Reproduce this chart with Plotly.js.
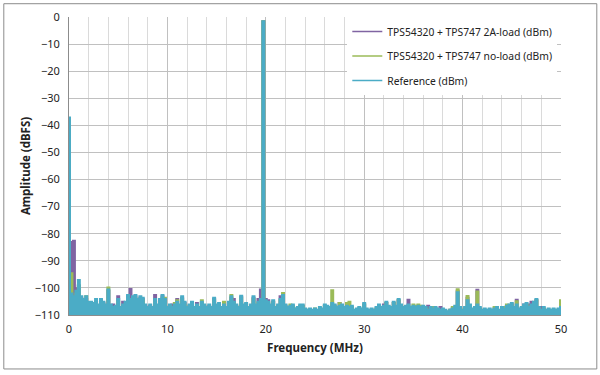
<!DOCTYPE html>
<html>
<head>
<meta charset="utf-8">
<script src="https://cdn.plot.ly/plotly-3.0.1.min.js"></script>
<style>
html,body{margin:0;padding:0;background:#fff;}
#chart{width:600px;height:375px;}
</style>
</head>
<body>
<div id="chart"></div>
<script>
// Frequency grid (MHz), 0.25 MHz spacing, 0..50
var freqMHz = [];
for (var i = 0; i <= 200; i++) { freqMHz.push(i * 0.25); }

var seriesNames = [
  "TPS54320 + TPS747 2A-load (dBm)",
  "TPS54320 + TPS747 no-load (dBm)",
  "Reference (dBm)"
];

// TPS54320 + TPS747 2A-load (dBm)
var load2A = [
  -38,-83,-82.5,-100,-99,-103.5,-104.5,-104,-105.5,-105.5,-106,-105,-106.5,-104.5,-105.5,-106.5,-101,-106.5,-106,-107,
  -103,-107.5,-105,-105.5,-103,-100.3,-103.5,-103,-104.5,-103.5,-104,-106.5,-107.5,-106.5,-107.5,-102.5,-106.5,-104.5,-103,-104.5,
  -107.5,-106.5,-106,-106.5,-104,-106.5,-103.5,-105.5,-107.5,-106.5,-105.5,-107.5,-105.5,-107.5,-105.5,-106.5,-107.5,-106.5,-107.5,-104,
  -106.5,-106,-107.5,-106.5,-107.5,-105.5,-103.5,-104,-106.5,-107.5,-103.2,-106.5,-106,-107.5,-106.5,-103.5,-106.5,-104,-100.5,-1.5,
  -104,-104.5,-106.5,-105,-107.5,-106.5,-103,-102.8,-106.5,-107.5,-107,-106.5,-108,-107.5,-106.5,-106.5,-108,-108.5,-108,-108.5,
  -108,-108.5,-107.5,-108,-106.5,-107,-107.5,-106,-106.5,-107.5,-105.5,-106.5,-107.5,-107,-107.5,-107,-108.5,-108,-107.5,-108,
  -106,-108,-108.5,-108,-108.5,-107.5,-106.5,-107.5,-106,-105.5,-107,-107.5,-105.5,-107,-104.5,-106.5,-107.5,-107,-104.3,-107.5,
  -107,-107.5,-107,-107.5,-107,-107.5,-106.5,-107.5,-107.5,-107.5,-108,-107,-108,-108.5,-109,-108,-107.5,-107,-101,-107.5,
  -108.5,-107.5,-103.5,-106.5,-108,-107.5,-100.6,-107.5,-108.5,-108,-108.5,-108,-108.5,-107.5,-107.5,-108.5,-107.5,-107.5,-106.5,-106.5,
  -106,-107.5,-104.3,-108,-107.5,-106,-106,-106,-105,-105.5,-104.5,-107.5,-107,-107.5,-108.5,-108,-108.5,-108,-108.5,-108,
  -108
];

// TPS54320 + TPS747 no-load (dBm)
var noLoad = [
  -37.5,-94.5,-104,-102,-99,-104,-104.5,-103,-106,-105.5,-106,-105,-106.5,-105,-106,-106.5,-99.8,-107,-107.5,-107,
  -105,-107.5,-107,-106,-104,-105,-104,-103.5,-105,-104,-104.5,-107,-107.5,-107,-107.5,-105,-106.5,-105,-103.5,-103.5,
  -107.5,-106.5,-107,-105.5,-104.5,-106.5,-104,-106,-107.5,-106.5,-106,-107.5,-106.5,-107.5,-104.5,-106.5,-107.5,-107,-107.5,-104.5,
  -106.5,-106,-107.5,-105,-107.5,-106,-102.5,-105.5,-106.5,-107.5,-103.5,-106.5,-106,-107.5,-106.5,-104,-106.5,-105.5,-104.5,-1.5,
  -105,-105.5,-106.5,-105,-107.5,-106.5,-104.5,-101.8,-106.5,-107.5,-106,-106.5,-107.5,-107.5,-106.5,-106.5,-108,-108,-108,-108.5,
  -107.5,-108.5,-107.5,-108,-106.5,-107,-107.5,-100.8,-106.5,-107.5,-105.5,-106.5,-107.5,-105.5,-105,-107,-108.5,-108,-107.5,-108,
  -106,-108,-108.5,-108,-108.5,-107.5,-106.5,-107.5,-107,-105.5,-107,-107.5,-105.5,-107,-104.5,-106.5,-107.5,-107,-106.5,-107.5,
  -106,-106.5,-106,-106.5,-107,-107.5,-108.5,-107.5,-107,-107.5,-108,-108.5,-108,-108.5,-109,-108,-107,-107,-100.4,-107.5,
  -108,-107.5,-102.9,-106.5,-108,-107.5,-101.2,-107.5,-108.5,-108,-108.5,-108,-108.5,-107,-107.5,-108.5,-107.5,-107,-106,-106.5,
  -106,-107.5,-104.8,-108,-107.5,-106.5,-106,-107.5,-106.5,-105.5,-104.5,-107.5,-108.5,-107.5,-108.5,-108,-108.5,-108,-108.5,-108,
  -104.5
];

// Reference (dBm)
var reference = [
  -37,-102,-103,-101,-97,-103,-104,-103,-105,-105,-105.5,-104,-106,-104,-105,-106,-100.5,-106,-107,-106.5,
  -104,-107,-106,-105,-102.5,-104,-103,-102.5,-104,-103,-103.5,-106,-107,-106,-107,-104,-106,-104,-102.5,-104,
  -107,-106,-107,-106,-105,-106,-103,-105,-107,-106,-105,-107,-106,-107,-105,-106,-107,-106,-107,-103.5,
  -106,-105.5,-107,-106,-107,-105,-103,-105,-106,-107,-102.8,-106,-105.5,-107,-106,-103,-106,-105,-104,-1.5,
  -104.5,-105,-106,-104.5,-107,-106,-104,-102.5,-106,-107,-106.5,-106,-107.5,-107,-106,-106,-107.5,-108,-107.5,-108,
  -107.5,-108,-107,-107.5,-106,-106.5,-107,-105.5,-106,-107,-106.5,-106,-107,-106.5,-107,-106.5,-108,-107.5,-107,-107.5,
  -105.5,-107.5,-108,-107.5,-108,-107,-106,-107,-106.5,-105,-106.5,-107,-105,-106.5,-104,-106,-107,-106.5,-106,-107,
  -106.5,-107,-106.5,-107,-106.5,-107,-108,-107,-107.5,-107,-107.5,-108,-107.5,-108,-108.5,-108,-107.5,-106.5,-101.5,-107,
  -108,-107,-104.5,-106,-107.5,-107,-106,-107,-108,-107.5,-108,-107.5,-108,-107.5,-107,-108,-107,-107.5,-106.5,-106,
  -105.5,-107,-106,-107.5,-107,-106,-105.5,-107,-106,-105,-104,-107,-108,-107,-108,-107.5,-108,-107.5,-108,-107.5,
  -107
];

var colors = ["#8064A2", "#9BBB59", "#4BACC6"];
var yFloor = -110;
var allSeries = [load2A, noLoad, reference];

var data = [];
allSeries.forEach(function (vals, k) {
  // hidden floor for the area fill
  data.push({
    x: freqMHz, y: freqMHz.map(function () { return yFloor; }),
    type: "scatter", mode: "lines", line: {width: 0, color: colors[k]},
    showlegend: false, hoverinfo: "skip", legendgroup: "g" + k
  });
  // filled area under the spectrum
  data.push({
    x: freqMHz, y: vals, type: "scatter", mode: "lines",
    line: {width: 0, color: colors[k], shape: "hvh"},
    fill: "tonexty", fillcolor: colors[k],
    showlegend: false, hoverinfo: "skip", legendgroup: "g" + k
  });
  // spectrum line (legend entry)
  data.push({
    x: freqMHz, y: vals, name: seriesNames[k],
    type: "scatter", mode: "lines", legendgroup: "g" + k,
    line: {width: 1.5, color: colors[k], shape: "hvh"}
  });
});

var fontFam = "'Noto Sans', 'Open Sans', sans-serif";
var L = 68.7, R = 560.7, T = 17.3, B = 315.5;
var pw = R - L, ph = B - T;
function px2x(p) { return (p - L) / pw; }
function px2y(p) { return (B - p) / ph; }

var layout = {
  width: 600, height: 375,
  margin: {l: L, r: 600 - R, t: T, b: 375 - B, pad: 0},
  paper_bgcolor: "#ffffff", plot_bgcolor: "#ffffff",
  font: {family: fontFam, size: 11, color: "#333333"},
  showlegend: true,
  legend: {
    x: px2x(347), y: 1, xanchor: "left", yanchor: "top",
    bgcolor: "#ffffff", borderwidth: 0,
    font: {family: fontFam, size: 10.3, color: "#222222"},
    traceorder: "grouped", tracegroupgap: 5.5
  },
  xaxis: {
    range: [0, 50], dtick: 10, tick0: 0, fixedrange: true,
    showgrid: true, gridcolor: "#c0c0c0", gridwidth: 1,
    minor: {dtick: 2, showgrid: true, gridcolor: "#dadada", gridwidth: 1},
    showline: true, linecolor: "#8c8c8c", linewidth: 1,
    zeroline: false, ticks: "", ticklabelstandoff: 4,
    tickfont: {family: fontFam, size: 11, color: "#222222"},
    title: {text: "Frequency (MHz)", font: {family: fontFam, size: 11.5, color: "#222222", weight: "bold"}, standoff: 8}
  },
  yaxis: {
    range: [-110, 0], dtick: 10, tick0: 0, fixedrange: true,
    showgrid: true, gridcolor: "#c0c0c0", gridwidth: 1,
    showline: true, linecolor: "#8c8c8c", linewidth: 1,
    zeroline: false, ticks: "", ticklabelstandoff: 6,
    tickfont: {family: fontFam, size: 11, color: "#222222"},
    title: {text: "Amplitude (dBFS)", font: {family: fontFam, size: 11.5, color: "#222222", weight: "bold"}, standoff: 1}
  },
  shapes: [{
    type: "rect", xref: "paper", yref: "paper",
    x0: px2x(3.5), x1: px2x(596.5), y0: px2y(369.5), y1: px2y(4),
    line: {color: "#8c8c8c", width: 1}, fillcolor: "rgba(0,0,0,0)", layer: "below"
  }]
};

Plotly.newPlot("chart", data, layout, {displayModeBar: false, staticPlot: true});
</script>
</body>
</html>
